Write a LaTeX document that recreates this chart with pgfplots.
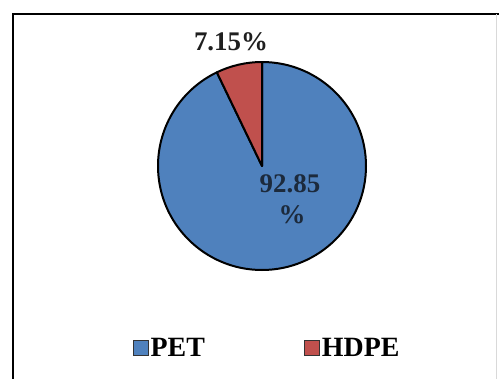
\documentclass[border=0pt]{standalone}
\usepackage{pgfplots}
\pgfplotsset{compat=1.18}
\usepackage{pgfplotstable}
\usepackage{fontspec}
\setmainfont{Liberation Serif}
\definecolor{petblue}{HTML}{4F81BD}
\definecolor{hdpered}{HTML}{C0504D}
\definecolor{lbldark}{HTML}{1C2A3C}
\pgfplotstableread{
label value
PET 92.85
HDPE 7.15
}\piedata
\begin{document}
\begin{tikzpicture}
\pgfplotstablegetelem{0}{value}\of\piedata \let\vpet\pgfplotsretval
\pgfplotstablegetelem{1}{value}\of\piedata \let\vhdpe\pgfplotsretval
\pgfmathsetmacro\apet{90-3.6*\vpet}
\pgfmathsetmacro\ahdpe{90+3.6*\vhdpe}
\begin{axis}[
  name=ax,
  scale only axis, width=499bp, height=379bp,
  xmin=0, xmax=499, ymin=0, ymax=379, y dir=reverse,
  hide axis, clip=false,
  legend columns=2,
  legend style={at={(axis cs:133,348)}, anchor=west, draw=none, fill=none,
    inner sep=0pt, font=\fontsize{28}{32}\selectfont\bfseries,
    nodes={inner xsep=1.5bp, inner ysep=0pt}},
  /tikz/every even column/.append style={column sep=98bp},
  legend image code/.code={\draw[#1] (0bp,-7.5bp) rectangle (15bp,7.5bp);},
]
\path (axis cs:0,0) rectangle (axis cs:499,379);
% frame
\draw[black, line width=2.5bp] (axis cs:13,379) -- (axis cs:13,14) -- (axis cs:499,14);
\draw[black!15, line width=1bp] (axis cs:496,14) -- (axis cs:496,379);
% pie slices from the data
\filldraw[fill=petblue, draw=black, line width=2bp, line join=round]
  (axis cs:262,166) -- ++(90:104bp) arc[start angle=90, end angle=\apet, radius=104bp] -- cycle;
\filldraw[fill=hdpered, draw=black, line width=2bp, line join=round]
  (axis cs:262,166) -- ++(90:104bp) arc[start angle=90, end angle=\ahdpe, radius=104bp] -- cycle;
% data labels
\node[anchor=base, text=black!88, font=\fontsize{27}{30}\selectfont\bfseries] at (axis cs:231,50) {7.15\%};
\node[anchor=base, text=lbldark, font=\fontsize{27}{30}\selectfont\bfseries] at (axis cs:290,192) {92.85};
\node[anchor=base, text=lbldark, font=\fontsize{27}{30}\selectfont\bfseries] at (axis cs:292,223) {\%};
\addlegendimage{fill=petblue, draw=black!80, line width=1bp}
\addlegendentry{PET}
\addlegendimage{fill=hdpered, draw=black!80, line width=1bp}
\addlegendentry{HDPE}
\end{axis}
\pgfresetboundingbox
\path (ax.south west) rectangle (ax.north east);
\end{tikzpicture}
\end{document}
